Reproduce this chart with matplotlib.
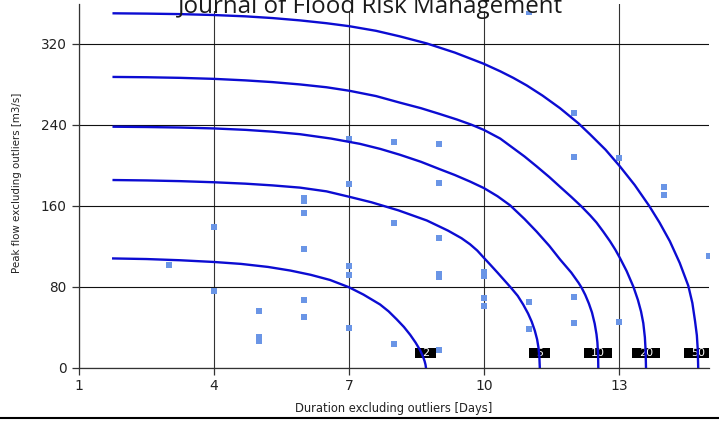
import matplotlib
matplotlib.use("Agg")
import matplotlib.pyplot as plt
from matplotlib.path import Path
from matplotlib.lines import Line2D
from matplotlib.patches import Rectangle

# Observed events: duration [days] and peak flow [m3/s]
event_duration = [3, 4, 4, 5, 5, 5, 6, 6, 6, 6, 6, 6,
                  7, 7, 7, 7, 7, 8, 8, 8, 9, 9, 9, 9, 9, 9,
                  10, 10, 10, 10, 11, 11, 11, 12, 12, 12, 12,
                  13, 13, 14, 14, 15]
event_peak = [101.2, 139.4, 75.5, 55.8, 30.3, 26.4, 168.2, 164.3, 153.0, 117.0, 67.2, 49.8,
              225.8, 181.6, 100.3, 91.6, 39.4, 222.8, 143.3, 23.1, 221.2, 182.9, 128.2, 92.8, 90.0, 17.5,
              95.0, 90.8, 68.8, 60.7, 351.3, 65.2, 38.3, 251.5, 208.5, 70.0, 43.7,
              207.3, 45.5, 179.0, 170.7, 110.6]

# Return-period isolines (years)
return_periods = ["2", "5", "10", "20", "50"]

curve_2_x = [1.76, 2.5, 3.25, 4.0, 4.6, 5.2, 5.7, 6.15, 6.58, 7.0, 7.32, 7.69, 7.88, 8.06,
             8.22, 8.36, 8.48, 8.58, 8.64, 8.68, 8.70, 8.71]
curve_2_y = [108.0, 107.4, 106.2, 104.5, 102.6, 99.6, 96.0, 91.8, 86.7, 79.5, 72.3, 62.5, 55.7, 47.8,
             40.3, 32.5, 24.8, 17.3, 11.5, 6.5, 3.0, 0.0]

curve_5_x = [1.77, 2.5, 3.25, 4.0, 4.7, 5.3, 5.91, 6.5, 7.0, 7.5, 8.1, 8.73, 9.2, 9.5, 9.69,
             9.85, 10.0, 10.15, 10.3, 10.45, 10.6, 10.75, 10.87, 10.98, 11.06, 11.13, 11.18,
             11.21, 11.23, 11.24]
curve_5_y = [185.5, 185.1, 184.4, 183.3, 181.9, 180.2, 178.0, 174.3, 169.0, 163.5, 155.5, 145.5,
             135.5, 128.0, 122.0, 115.8, 108.5, 101.3, 94.0, 86.5, 79.0, 71.0, 62.5, 53.5, 45.5,
             36.5, 28.0, 20.0, 11.0, 0.0]

curve_10_x = [1.77, 2.5, 3.25, 4.0, 4.7, 5.3, 5.91, 6.6, 7.24, 7.7, 8.13, 8.6, 9.0, 9.35, 9.69,
              10.0, 10.3, 10.58, 10.9, 11.17, 11.45, 11.69, 11.94, 12.1, 12.17, 12.25, 12.33,
              12.4, 12.46, 12.5, 12.52, 12.535, 12.54]
curve_10_y = [238.2, 237.9, 237.4, 236.5, 235.1, 233.3, 230.8, 226.5, 221.3, 216.2, 210.5, 203.5,
              196.5, 190.5, 184.0, 177.5, 169.5, 160.5, 147.0, 134.5, 120.5, 107.0, 94.0, 84.0,
              79.0, 72.0, 63.5, 54.5, 43.5, 33.0, 25.0, 13.0, 0.0]

curve_20_x = [1.77, 2.5, 3.25, 4.0, 4.7, 5.3, 5.91, 6.5, 7.0, 7.6, 8.13, 8.6, 9.0, 9.4, 9.72,
              10.0, 10.36, 10.65, 10.9, 11.17, 11.45, 11.69, 11.94, 12.17, 12.36, 12.5, 12.65,
              12.8, 12.92, 13.02, 13.17, 13.32, 13.42, 13.49, 13.54, 13.575, 13.59, 13.6]
curve_20_y = [287.4, 287.1, 286.5, 285.5, 284.0, 282.3, 280.0, 277.2, 273.8, 268.5, 262.0, 256.5,
              251.0, 245.3, 240.2, 235.0, 226.5, 217.0, 208.8, 199.0, 188.5, 178.8, 168.8, 159.2,
              150.5, 143.5, 134.5, 125.0, 116.5, 108.5, 95.5, 80.0, 67.0, 55.5, 44.0, 30.0, 18.0,
              0.0]

curve_50_x = [1.77, 2.5, 3.25, 4.0, 4.7, 5.3, 5.91, 6.5, 7.0, 7.6, 8.13, 8.73, 9.35, 9.99, 10.36,
              10.65, 10.95, 11.3, 11.69, 12.1, 12.36, 12.7, 13.02, 13.35, 13.67, 13.9, 14.13,
              14.35, 14.54, 14.63, 14.69, 14.73, 14.75, 14.76]
curve_50_y = [350.3, 350.0, 349.5, 348.6, 347.3, 345.6, 343.3, 340.5, 337.6, 333.0, 327.5, 320.5,
              311.5, 300.5, 293.0, 286.5, 279.0, 269.0, 256.5, 241.5, 230.5, 215.5, 199.0, 180.5,
              160.0, 143.5, 125.0, 103.5, 81.0, 64.0, 46.0, 32.0, 18.0, 0.0]

curves_x = [curve_2_x, curve_5_x, curve_10_x, curve_20_x, curve_50_x]
curves_y = [curve_2_y, curve_5_y, curve_10_y, curve_20_y, curve_50_y]

x_ticks = [1, 4, 7, 10, 13]
y_ticks = [0, 80, 160, 240, 320]

W, H = 719, 422
fig = plt.figure(figsize=(W / 100, H / 100), dpi=100)
fig.patch.set_facecolor("white")

ax_left, ax_right, ax_bottom, ax_top = 79, 709, 367.7, 4
ax = fig.add_axes([ax_left / W, 1 - ax_bottom / H, (ax_right - ax_left) / W, (ax_bottom - ax_top) / H])
ax.set_xlim(1, 15)
ax.set_ylim(0, 359.5)

for side in ("top", "right"):
    ax.spines[side].set_visible(False)
for side in ("left", "bottom"):
    ax.spines[side].set_color("#333333")
    ax.spines[side].set_linewidth(0.9)

ax.set_xticks(x_ticks)
ax.set_yticks(y_ticks)
ax.tick_params(axis="both", direction="out", length=5, width=0.9, color="#333333",
               labelcolor="#222222")
ax.tick_params(axis="x", pad=3, labelsize=10)
ax.tick_params(axis="y", pad=4, labelsize=9.8)
ax.xaxis.grid(True, color="#333333", linewidth=0.8)
ax.yaxis.grid(True, color="#111111", linewidth=0.8)
ax.set_axisbelow(True)

# Observed events
ax.plot(event_duration, event_peak, linestyle="none", marker="s", markersize=3.8,
        markerfacecolor="#6a95e6", markeredgewidth=0, zorder=3)


def label_box(x0, y0, width, height, mutation_size):
    padx = 0.62 * mutation_size
    x0 = x0 - padx
    x1, y1 = x0 + width + 2 * padx, y0 + height
    return Path([(x0, y0), (x1, y0), (x1, y1), (x0, y1), (x0, y0)], closed=True)


# Isolines with their return-period tags at the foot of each curve
for cx, cy, rp in zip(curves_x, curves_y, return_periods):
    ax.text(cx[-1], 14.5, rp, ha="center", va="center", color="white", fontsize=8,
            bbox=dict(boxstyle=label_box, fc="black", ec="none"), zorder=4, clip_on=True)
    ax.plot(cx, cy, color="#0c0cd2", linewidth=1.7, solid_joinstyle="round", zorder=5)

ax.set_xlabel("Duration excluding outliers [Days]", fontsize=8.3, color="#222222")
ax.xaxis.set_label_coords(0.5, (ax_bottom - 412) / (ax_bottom - ax_top))
ax.xaxis.label.set_verticalalignment("baseline")

ax.set_ylabel("Peak flow excluding outliers [m3/s]", fontsize=7.4, color="#222222")
ax.yaxis.set_label_coords((17 - ax_left) / (ax_right - ax_left), (ax_bottom - 183) / (ax_bottom - ax_top))
ax.yaxis.label.set_verticalalignment("center")

# Journal banner running off the top edge
fig.add_artist(Rectangle((176 / W, 1 - 11 / H), 390 / W, 11 / H, transform=fig.transFigure,
                         facecolor="white", edgecolor="none", zorder=10))
fig.text(370 / W, 1 - 12.7 / H, "Journal of Flood Risk Management", ha="center", va="baseline",
         fontsize=17.4, family="Open Sans", color="#1a1a1a", zorder=11)

# Bottom border rule
fig.add_artist(Line2D([0, 1], [1 - 418.3 / H, 1 - 418.3 / H], transform=fig.transFigure,
                      color="black", linewidth=1.5, zorder=10))

fig.savefig("out.png", dpi=100)
